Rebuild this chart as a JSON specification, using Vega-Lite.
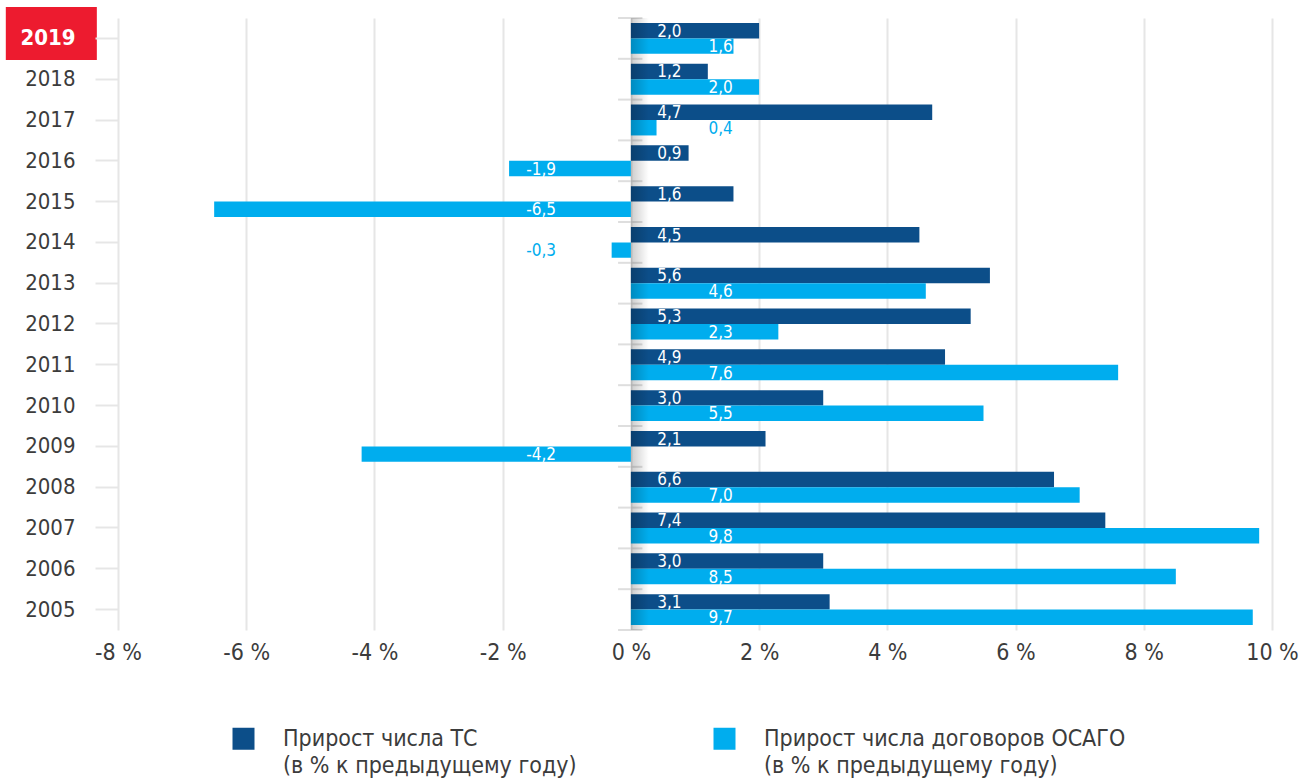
{
  "$schema": "https://vega.github.io/schema/vega-lite/v6.json",
  "width": 1154,
  "height": 612,
  "autosize": "none",
  "padding": {"left": 118, "top": 18, "right": 40, "bottom": 152},
  "config": {
    "locale": {"number": {"decimal": ",", "thousands": " ", "grouping": [3], "currency": ["", ""], "minus": "-"}},
    "view": {"stroke": null},
    "font": "Liberation Sans Narrow, DejaVu Sans Condensed, sans-serif",
    "style": {"guide-label": {"lineHeight": 27}}
  },
  "datasets": {
    "growth": [
      {"year": "2019", "series": "ТС", "value": 2.0},
      {"year": "2019", "series": "ОСАГО", "value": 1.6},
      {"year": "2018", "series": "ТС", "value": 1.2},
      {"year": "2018", "series": "ОСАГО", "value": 2.0},
      {"year": "2017", "series": "ТС", "value": 4.7},
      {"year": "2017", "series": "ОСАГО", "value": 0.4},
      {"year": "2016", "series": "ТС", "value": 0.9},
      {"year": "2016", "series": "ОСАГО", "value": -1.9},
      {"year": "2015", "series": "ТС", "value": 1.6},
      {"year": "2015", "series": "ОСАГО", "value": -6.5},
      {"year": "2014", "series": "ТС", "value": 4.5},
      {"year": "2014", "series": "ОСАГО", "value": -0.3},
      {"year": "2013", "series": "ТС", "value": 5.6},
      {"year": "2013", "series": "ОСАГО", "value": 4.6},
      {"year": "2012", "series": "ТС", "value": 5.3},
      {"year": "2012", "series": "ОСАГО", "value": 2.3},
      {"year": "2011", "series": "ТС", "value": 4.9},
      {"year": "2011", "series": "ОСАГО", "value": 7.6},
      {"year": "2010", "series": "ТС", "value": 3.0},
      {"year": "2010", "series": "ОСАГО", "value": 5.5},
      {"year": "2009", "series": "ТС", "value": 2.1},
      {"year": "2009", "series": "ОСАГО", "value": -4.2},
      {"year": "2008", "series": "ТС", "value": 6.6},
      {"year": "2008", "series": "ОСАГО", "value": 7.0},
      {"year": "2007", "series": "ТС", "value": 7.4},
      {"year": "2007", "series": "ОСАГО", "value": 9.8},
      {"year": "2006", "series": "ТС", "value": 3.0},
      {"year": "2006", "series": "ОСАГО", "value": 8.5},
      {"year": "2005", "series": "ТС", "value": 3.1},
      {"year": "2005", "series": "ОСАГО", "value": 9.7}
    ]
  },
  "layer": [
    {
      "data": {"values": [{"year": "2019"}]},
      "mark": {"type": "bar", "color": "#ed1b2f", "height": 53, "yOffset": -5, "orient": "horizontal"},
      "encoding": {
        "y": {
          "field": "year", "type": "nominal", "sort": "descending",
          "scale": {"paddingInner": 0, "paddingOuter": 0},
          "axis": {
            "title": null, "domain": false, "grid": false, "ticks": true,
            "tickSize": 23, "tickColor": "#e6e6e6", "tickWidth": 2,
            "labelPadding": 20, "labelFontSize": 22,
            "labelColor": {"condition": {"test": "datum.value == '2019'", "value": "#ffffff"}, "value": "#3c3c3c"},
            "labelFontWeight": {"condition": {"test": "datum.value == '2019'", "value": "bold"}, "value": "normal"},
            "zindex": 1
          }
        },
        "x": {"datum": -9.75},
        "x2": {"datum": -8.33}
      }
    },
    {
      "data": {"name": "growth"},
      "mark": {"type": "bar"},
      "encoding": {
        "y": {"field": "year", "type": "nominal", "sort": "descending"},
        "yOffset": {"field": "series", "type": "nominal", "sort": ["ТС", "ОСАГО"], "scale": {"paddingInner": 0, "paddingOuter": 0.32}},
        "x": {
          "field": "value", "type": "quantitative",
          "scale": {"domain": [-8, 10], "nice": false, "zero": false},
          "axis": {
            "values": [-8, -6, -4, -2, 0, 2, 4, 6, 8, 10],
            "labelExpr": "datum.value + ' %'",
            "title": null, "domain": false, "ticks": false, "grid": true,
            "gridColor": "#e6e6e6", "gridWidth": 2, "labelFlush": false,
            "labelFontSize": 23, "labelColor": "#3c3c3c", "labelPadding": 11, "zindex": 0
          }
        },
        "color": {
          "field": "series", "type": "nominal",
          "scale": {"domain": ["ТС", "ОСАГО"], "range": ["#0c4e89", "#00adee"]},
          "legend": {
            "orient": "none", "legendX": 114, "legendY": 709, "direction": "horizontal",
            "title": null, "symbolType": "square", "symbolSize": 484, "symbolStrokeWidth": 0,
            "labelFontSize": 23, "labelColor": "#3c3c3c", "labelOffset": 28, "columnPadding": 136,
            "labelLimit": 600,
            "labelExpr": "datum.label == 'ТС' ? ['Прирост числа ТС', '(в % к предыдущему году)'] : ['Прирост числа договоров ОСАГО', '(в % к предыдущему году)']"
          }
        }
      }
    },
    {
      "data": {"name": "growth"},
      "transform": [{"filter": "datum.series == 'ТС'"}],
      "mark": {"type": "rule", "color": "#dedede", "strokeWidth": 2},
      "encoding": {
        "y": {"field": "year", "type": "nominal", "sort": "descending", "bandPosition": 0},
        "x": {"datum": -0.2},
        "x2": {"datum": 0.18}
      }
    },
    {
      "data": {"values": [{"year": "2005"}]},
      "mark": {"type": "rule", "color": "#dedede", "strokeWidth": 2},
      "encoding": {
        "y": {"field": "year", "type": "nominal", "sort": "descending", "bandPosition": 1},
        "x": {"datum": -0.2},
        "x2": {"datum": 0.18}
      }
    },
    {
      "data": {"values": [{"shade": "zero"}]},
      "mark": {
        "type": "rect",
        "fill": {"gradient": "linear", "x1": 0, "x2": 1, "y1": 0, "y2": 0,
          "stops": [{"offset": 0, "color": "rgba(0,0,0,0.2)"}, {"offset": 1, "color": "rgba(0,0,0,0)"}]}
      },
      "encoding": {
        "x": {"datum": 0},
        "x2": {"datum": 0.28}
      }
    },
    {
      "data": {"name": "growth"},
      "transform": [{"filter": "datum.series == 'ТС'"}],
      "mark": {"type": "text", "align": "center", "baseline": "middle", "fontSize": 17, "color": "#ffffff", "dy": 1},
      "encoding": {
        "y": {"field": "year", "type": "nominal", "sort": "descending"},
        "yOffset": {"field": "series", "type": "nominal", "sort": ["ТС", "ОСАГО"]},
        "x": {"datum": 0.6},
        "text": {"field": "value", "type": "quantitative", "format": ".1f"}
      }
    },
    {
      "data": {"name": "growth"},
      "transform": [{"filter": "datum.series == 'ОСАГО' && datum.value > 0"}],
      "mark": {"type": "text", "align": "center", "baseline": "middle", "fontSize": 17, "dy": 1},
      "encoding": {
        "y": {"field": "year", "type": "nominal", "sort": "descending"},
        "yOffset": {"field": "series", "type": "nominal", "sort": ["ТС", "ОСАГО"]},
        "x": {"datum": 1.4},
        "text": {"field": "value", "type": "quantitative", "format": ".1f"},
        "color": {"condition": {"test": "datum.value < 1.6", "value": "#00adee"}, "value": "#ffffff"}
      }
    },
    {
      "data": {"name": "growth"},
      "transform": [{"filter": "datum.series == 'ОСАГО' && datum.value < 0"}],
      "mark": {"type": "text", "align": "center", "baseline": "middle", "fontSize": 17, "dy": 1},
      "encoding": {
        "y": {"field": "year", "type": "nominal", "sort": "descending"},
        "yOffset": {"field": "series", "type": "nominal", "sort": ["ТС", "ОСАГО"]},
        "x": {"datum": -1.4},
        "text": {"field": "value", "type": "quantitative", "format": ".1f"},
        "color": {"condition": {"test": "datum.value > -1.7", "value": "#00adee"}, "value": "#ffffff"}
      }
    }
  ]
}
